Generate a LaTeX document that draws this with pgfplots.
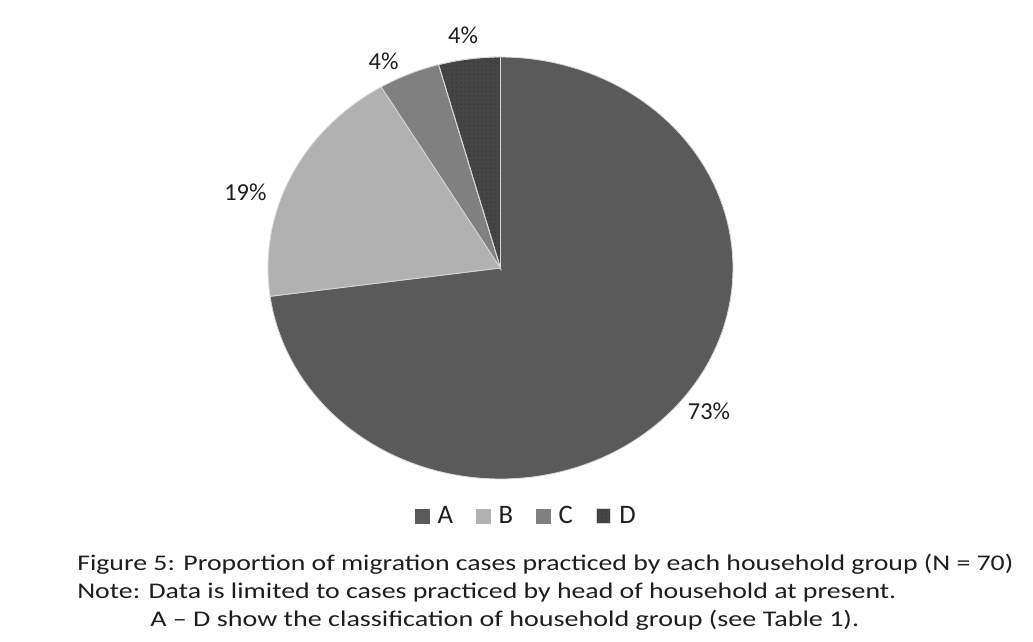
\documentclass[border=0pt]{standalone}
\usepackage{fontspec}
\setmainfont{Carlito}
\usepackage{graphicx}
\usepackage{pgfplots}
\pgfplotsset{compat=1.18}
\usepackage{pgfplotstable}
\usetikzlibrary{patterns.meta}

\newlength\px
\setlength\px{0.75pt}

\definecolor{grpA}{HTML}{5A5A5A}
\definecolor{grpB}{HTML}{B1B1B1}
\definecolor{grpC}{HTML}{808080}
\definecolor{grpD}{HTML}{454545}
\definecolor{ink}{HTML}{1E1E1E}

% migration cases per household group, with label positions (axis units)
\pgfplotstableread{
group count lx ly
A 51 0.897 -0.678
B 13 -1.097 0.358
C 3 -0.503 0.981
D 3 -0.161 1.102
}\shares

\pgfplotsset{
  slice0/.style={fill=grpA},
  slice1/.style={fill=grpB},
  slice2/.style={fill=grpC},
  slice3/.style={fill=grpD,
    postaction={pattern={Dots[distance=3.2pt, radius=0.5pt]}, pattern color=black!80}},
}

\begin{document}
\begin{tikzpicture}[x=0.75pt, y=0.75pt]
\useasboundingbox (0,0) rectangle (1033,-642);

% total and slice angles (clockwise from 12 o'clock)
\def\total{0}
\pgfplotsforeachungrouped \i in {0,...,3}{%
  \pgfplotstablegetelem{\i}{count}\of\shares
  \pgfmathsetmacro\total{\total+\pgfplotsretval}%
}
\def\cur{90}
\pgfplotsforeachungrouped \i in {0,...,3}{%
  \pgfplotstablegetelem{\i}{count}\of\shares
  \let\cnt\pgfplotsretval
  \pgfmathsetmacro\frac{\cnt/\total}%
  \pgfmathsetmacro\slicespan{360*\frac}%
  \pgfmathsetmacro\nxt{\cur-\slicespan}%
  \pgfmathtruncatemacro\pct{round(100*\frac)}%
  \expandafter\xdef\csname endang\i\endcsname{\cur}%
  \expandafter\xdef\csname begang\i\endcsname{\nxt}%
  \expandafter\xdef\csname pct\i\endcsname{\pct}%
  \pgfplotstablegetelem{\i}{lx}\of\shares
  \expandafter\xdef\csname lx\i\endcsname{\pgfplotsretval}%
  \pgfplotstablegetelem{\i}{ly}\of\shares
  \expandafter\xdef\csname ly\i\endcsname{\pgfplotsretval}%
  \let\cur\nxt
}

\begin{axis}[
  at={(500.5\px,-268\px)}, anchor=center,
  scale only axis, width=465\px, height=422\px,
  xmin=-1, xmax=1, ymin=-1, ymax=1,
  hide axis, clip=false,
  legend columns=4,
  legend image code/.code={\path[#1, draw=none] (0pt,-5.6pt) rectangle (11.2pt,5.6pt);},
  legend style={draw=none, fill=none, at={(0.553,-0.088)}, anchor=center,
    font=\fontsize{20}{23}\selectfont, text=ink,
    nodes={inner xsep=0pt},
    /tikz/every odd column/.append style={column sep=6pt},
    /tikz/every even column/.append style={column sep=17pt}},
]
\pgfplotsinvokeforeach{0,...,3}{
  \addplot[slice#1, draw=white!85!black, line width=0.6pt,
    domain=\csname begang#1\endcsname:\csname endang#1\endcsname, samples=120]
    ({cos(x)}, {sin(x)}) -- (axis cs:0,0) -- cycle;
}
\legend{A, B, C, D}
\pgfplotsinvokeforeach{0,...,3}{
  \node[text=ink, font=\fontsize{18.3}{21}\selectfont]
    at (axis cs:\csname lx#1\endcsname,\csname ly#1\endcsname) {\csname pct#1\endcsname\%};
}
\end{axis}

% caption
\begin{scope}[every node/.style={anchor=base west, inner sep=0pt, text=ink}]
\node at (77,-570) {\resizebox{936\px}{\height}{\fontsize{16.8}{19}\selectfont Figure 5: Proportion of migration cases practiced by each household group (N = 70)}};
\node at (77,-598) {\resizebox{819\px}{\height}{\fontsize{16.8}{19}\selectfont Note: Data is limited to cases practiced by head of household at present.}};
\node at (150,-626) {\resizebox{709\px}{\height}{\fontsize{16.8}{19}\selectfont A – D show the classification of household group (see Table 1).}};
\end{scope}
\end{tikzpicture}
\end{document}
